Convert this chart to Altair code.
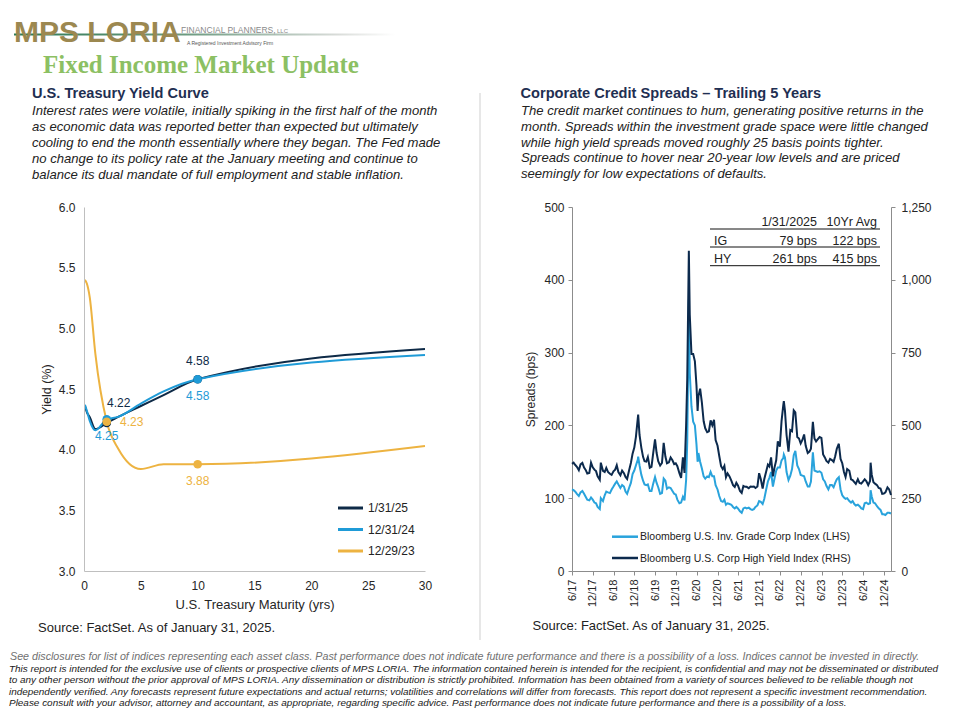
import altair as alt
import pandas as pd

# ---------------- yield curve data ----------------
maturity_yrs = [0.083, 0.25, 0.5, 1, 2, 3, 5, 7, 10, 30]
curve_labels = ["1/31/25", "12/31/24", "12/29/23"]
curve_colors = ["#0e2a47", "#1f9bd7", "#edb341"]
yields_013125 = [4.36, 4.31, 4.27, 4.17, 4.22, 4.27, 4.36, 4.45, 4.58, 4.83]
yields_123124 = [4.37, 4.32, 4.24, 4.16, 4.25, 4.27, 4.38, 4.48, 4.58, 4.78]
yields_122923 = [5.40, 5.37, 5.26, 4.79, 4.23, 4.01, 3.84, 3.88, 3.88, 4.03]
highlight_idx = [4, 8]          # 2Y and 10Y points
yield_ticks = [3.0, 3.5, 4.0, 4.5, 5.0, 5.5, 6.0]
maturity_ticks = [0, 5, 10, 15, 20, 25, 30]

# ---------------- credit spread data ----------------
spread_dates = [
    "2017-06-01", "2017-06-15", "2017-06-30", "2017-07-14", "2017-07-31", "2017-08-15", "2017-08-31",
    "2017-09-15", "2017-09-29", "2017-10-13", "2017-10-31", "2017-11-15", "2017-11-30", "2017-12-15", "2017-12-29",
    "2018-01-12", "2018-01-31", "2018-02-09", "2018-02-28", "2018-03-15", "2018-03-29", "2018-04-13", "2018-04-30",
    "2018-05-15", "2018-05-31", "2018-06-15", "2018-06-29", "2018-07-13", "2018-07-31", "2018-08-15", "2018-08-31",
    "2018-09-14", "2018-09-28", "2018-10-15", "2018-10-31", "2018-11-15", "2018-11-30", "2018-12-14", "2018-12-31",
    "2019-01-03", "2019-01-15", "2019-01-31", "2019-02-15", "2019-02-28", "2019-03-15", "2019-03-29", "2019-04-15",
    "2019-04-30", "2019-05-15", "2019-05-31", "2019-06-14", "2019-06-28", "2019-07-15", "2019-07-31", "2019-08-15",
    "2019-08-30", "2019-09-13", "2019-09-30", "2019-10-15", "2019-10-31", "2019-11-15", "2019-11-29", "2019-12-13",
    "2019-12-31",
    "2020-01-15", "2020-01-31", "2020-02-14", "2020-02-28", "2020-03-09", "2020-03-23", "2020-03-31", "2020-04-15",
    "2020-04-30", "2020-05-15", "2020-05-29", "2020-06-08", "2020-06-15", "2020-06-30", "2020-07-15", "2020-07-31",
    "2020-08-14", "2020-08-31", "2020-09-15", "2020-09-30", "2020-10-15", "2020-10-30", "2020-11-13", "2020-11-30",
    "2020-12-15", "2020-12-31",
    "2021-01-15", "2021-01-29", "2021-02-12", "2021-02-26", "2021-03-15", "2021-03-31", "2021-04-15", "2021-04-30",
    "2021-05-14", "2021-05-28", "2021-06-15", "2021-06-30", "2021-07-15", "2021-07-30", "2021-08-13", "2021-08-31",
    "2021-09-15", "2021-09-30", "2021-10-15", "2021-10-29", "2021-11-15", "2021-11-30", "2021-12-15", "2021-12-31",
    "2022-01-14", "2022-01-31", "2022-02-15", "2022-02-28", "2022-03-15", "2022-03-31", "2022-04-14", "2022-04-29",
    "2022-05-13", "2022-05-31", "2022-06-15", "2022-06-30", "2022-07-05", "2022-07-15", "2022-07-29", "2022-08-15",
    "2022-08-31", "2022-09-15", "2022-09-30", "2022-10-14", "2022-10-31", "2022-11-15", "2022-11-30", "2022-12-15",
    "2022-12-30",
    "2023-01-13", "2023-01-31", "2023-02-15", "2023-02-28", "2023-03-17", "2023-03-31", "2023-04-14", "2023-04-28",
    "2023-05-15", "2023-05-31", "2023-06-15", "2023-06-30", "2023-07-14", "2023-07-31", "2023-08-15", "2023-08-31",
    "2023-09-15", "2023-09-29", "2023-10-13", "2023-10-31", "2023-11-15", "2023-11-30", "2023-12-15", "2023-12-29",
    "2024-01-12", "2024-01-31", "2024-02-15", "2024-02-29", "2024-03-15", "2024-03-28", "2024-04-15", "2024-04-30",
    "2024-05-15", "2024-05-31", "2024-06-14", "2024-06-28", "2024-07-15", "2024-07-31", "2024-08-05", "2024-08-15",
    "2024-08-30", "2024-09-13", "2024-09-30", "2024-10-15", "2024-10-31", "2024-11-15", "2024-11-29", "2024-12-13",
    "2024-12-31", "2025-01-15", "2025-01-31",
]
hy_spread = [
    368, 372, 364, 358, 346, 366, 371, 355, 347, 335, 337, 372, 356, 348, 343,
    325, 313, 372, 344, 340, 354, 340, 334, 330, 342, 348, 363, 340, 329, 345, 336,
    323, 316, 345, 371, 403, 424, 460, 526,
    537, 467, 423, 392, 377, 376, 391, 355, 358, 405, 452, 405, 377, 362, 371, 440,
    393, 370, 373, 390, 380, 367, 370, 360, 336,
    320, 390, 337, 500, 660, 1100, 880, 745, 745, 720, 637, 550, 600, 626, 580, 514,
    490, 477, 480, 517, 500, 519, 450, 430, 395, 360,
    350, 361, 322, 335, 325, 310, 295, 289, 303, 294, 275, 268, 292, 289, 289, 284,
    290, 289, 290, 285, 290, 336, 315, 283,
    315, 342, 365, 359, 390, 325, 355, 380, 445, 427, 515, 569, 583, 550, 467, 410,
    484, 480, 552, 545, 460, 455, 438, 450, 469,
    430, 405, 410, 420, 512, 455, 445, 452, 460, 457, 400, 390, 378, 372, 385, 381,
    375, 394, 420, 437, 385, 370, 340, 323,
    350, 344, 315, 312, 305, 299, 315, 302, 300, 308, 315, 309, 295, 309, 372, 330,
    305, 300, 295, 285, 283, 265, 266, 270, 287, 280, 261,
]
ig_spread = [
    112, 111, 109, 106, 103, 108, 110, 106, 102, 98, 97, 101, 98, 94, 93,
    88, 85, 100, 96, 104, 109, 108, 107, 112, 116, 120, 123, 119, 114, 118, 116,
    109, 106, 114, 121, 133, 138, 145, 153,
    157, 145, 132, 124, 119, 118, 119, 110, 110, 120, 129, 121, 115, 106, 107, 127,
    124, 113, 115, 114, 110, 106, 105, 98, 93,
    94, 102, 97, 125, 178, 373, 272, 226, 205, 200, 174, 150, 162, 150, 141, 130,
    127, 130, 129, 136, 130, 130, 118, 112, 103, 96,
    95, 98, 91, 93, 92, 91, 88, 86, 88, 86, 82, 80, 86, 87, 86, 87,
    85, 84, 85, 88, 90, 96, 95, 92,
    99, 112, 123, 128, 136, 116, 127, 138, 142, 142, 152, 155, 160, 156, 136, 125,
    131, 140, 159, 165, 145, 140, 132, 131, 130,
    123, 116, 116, 123, 163, 138, 137, 136, 137, 135, 126, 123, 117, 112, 118, 118,
    115, 121, 126, 129, 112, 104, 101, 99,
    100, 96, 94, 96, 92, 90, 91, 89, 86, 85, 93, 94, 92, 93, 111, 102,
    94, 93, 89, 86, 84, 78, 78, 77, 80, 80, 79,
]
spread_series = ["Bloomberg U.S. Inv. Grade Corp Index (LHS)", "Bloomberg U.S. Corp High Yield Index (RHS)"]
spread_colors = ["#29a3dc", "#0c2a4d"]
spread_tick_dates = [(y, m) for y in range(2017, 2025) for m in (6, 12)]
ig_ticks = [0, 100, 200, 300, 400, 500]
hy_ticks = [0, 250, 500, 750, 1000, 1250]

table_header = ["1/31/2025", "10Yr Avg"]
table_rows = ["IG", "HY"]
table_current = ["79 bps", "261 bps"]
table_avg = ["122 bps", "415 bps"]

# ---------------- text ----------------
logo_text = "MPS LORIA"
logo_sub = "FINANCIAL PLANNERS,"
logo_llc = "LLC"
logo_tag = "A Registered Investment Advisory Firm"
page_title = "Fixed Income Market Update"
left_heading = "U.S. Treasury Yield Curve"
left_para = [
    "Interest rates were volatile, initially spiking in the first half of the month",
    "as economic data was reported better than expected but ultimately",
    "cooling to end the month essentially where they began. The Fed made",
    "no change to its policy rate at the January meeting and continue to",
    "balance its dual mandate of full employment and stable inflation.",
]
right_heading = "Corporate Credit Spreads \u2013 Trailing 5 Years"
right_para = [
    "The credit market continues to hum, generating positive returns in the",
    "month. Spreads within the investment grade space were little changed",
    "while high yield spreads moved roughly 25 basis points tighter.",
    "Spreads continue to hover near 20-year low levels and are priced",
    "seemingly for low expectations of defaults.",
]
source_text = "Source: FactSet. As of January 31, 2025."
footer_first = ("See disclosures for list of indices representing each asset class. Past performance does not "
                "indicate future performance and there is a possibility of a loss. Indices cannot be invested in directly.")
footer_lines = [
    "This report is intended for the exclusive use of clients or prospective clients of MPS LORIA. The information contained herein is intended for the recipient, is confidential and may not be disseminated or distributed",
    "to any other person without the prior approval of MPS LORIA. Any dissemination or distribution is strictly prohibited. Information has been obtained from a variety of sources believed to be reliable though not",
    "independently verified. Any forecasts represent future expectations and actual returns; volatilities and correlations will differ from forecasts. This report does not represent a specific investment recommendation.",
    "Please consult with your advisor, attorney and accountant, as appropriate, regarding specific advice. Past performance does not indicate future performance and there is a possibility of a loss.",
]

FONT = "Liberation Sans"
one = pd.DataFrame({"k": [0]})


def txt(lines, x, y, size, color="#222222", style="normal", weight="normal", font=FONT,
        align="left", baseline="alphabetic", lh=None):
    kw = dict(fontSize=size, color=color, fontStyle=style, fontWeight=weight, font=font,
              align=align, baseline=baseline)
    if lh is not None:
        kw["lineHeight"] = lh
    return alt.Chart(one).mark_text(**kw).encode(
        x=alt.value(x), y=alt.value(y), text=alt.value(lines))


def rule(x1, x2, y1, y2, color, width=1):
    return alt.Chart(one).mark_rule(color=color, strokeWidth=width).encode(
        x=alt.value(x1), x2=alt.value(x2), y=alt.value(y1), y2=alt.value(y2))


# ---------------- left panel (yield curve + page text) ----------------
curve_values = [yields_013125, yields_123124, yields_122923]
rows = []
for name, ys in zip(curve_labels, curve_values):
    for m, v in zip(maturity_yrs, ys):
        rows.append({"series": name, "maturity": m, "yield": v})
ydf = pd.DataFrame(rows)

xs = alt.Scale(domain=[0, 30], nice=False)
ysc = alt.Scale(domain=[3, 6], nice=False)
x_axis = alt.Axis(values=maturity_ticks, title="U.S. Treasury Maturity (yrs)", ticks=False, tickSize=0,
                  domainColor="#bfbfbf", labelFontSize=12, titleFontSize=13, labelPadding=9,
                  titlePadding=7, zindex=1, labelFlush=False)
y_axis = alt.Axis(values=yield_ticks, format=".1f", title="Yield (%)", ticks=False, tickSize=0,
                  domainColor="#bfbfbf", labelFontSize=12, titleFontSize=12.5, labelPadding=9,
                  titlePadding=5, zindex=1)

bg = alt.Chart(one).mark_rect(color="white").encode(
    x=alt.value(-76), x2=alt.value(868), y=alt.value(-199), y2=alt.value(504.5))

layers = [bg]
for i in [2, 0, 1]:
    layers.append(
        alt.Chart(ydf).transform_filter(alt.datum.series == curve_labels[i])
        .mark_line(color=curve_colors[i], strokeWidth=2, interpolate="monotone")
        .encode(x=alt.X("maturity:Q", scale=xs, axis=x_axis), y=alt.Y("yield:Q", scale=ysc, axis=y_axis))
    )

pts_rows = []
for i in [0, 1, 2]:
    for k in highlight_idx:
        pts_rows.append({"series": curve_labels[i], "maturity": maturity_yrs[k],
                         "yield": curve_values[i][k], "label": f"{curve_values[i][k]:.2f}"})
pdf = pd.DataFrame(pts_rows)
for i in [0, 1, 2]:
    layers.append(
        alt.Chart(pdf).transform_filter(alt.datum.series == curve_labels[i])
        .mark_point(filled=True, size=75, opacity=1, color=curve_colors[i])
        .encode(x=alt.X("maturity:Q", scale=xs), y=alt.Y("yield:Q", scale=ysc))
    )

label_offsets = {(0, 4): (12, -20), (1, 4): (0, 17), (2, 4): (25, 0),
                 (0, 8): (0, -18), (1, 8): (0, 17), (2, 8): (0, 17)}
for (i, k), (dx, dy) in label_offsets.items():
    layers.append(
        alt.Chart(pdf).transform_filter(
            (alt.datum.series == curve_labels[i]) & (alt.datum.maturity == maturity_yrs[k]))
        .mark_text(color=curve_colors[i], fontSize=12, font=FONT, dx=dx, dy=dy,
                   align="center", baseline="middle")
        .encode(x=alt.X("maturity:Q", scale=xs), y=alt.Y("yield:Q", scale=ysc), text="label:N")
    )

# left legend
for r, (name, col) in enumerate(zip(curve_labels, curve_colors)):
    yy = 301 + r * 21.5
    layers.append(rule(254, 279, yy, yy, col, 3))
    layers.append(txt(name, 284, yy + 4.3, 12, color="#222222"))

# header / logo
logo_grad = alt.LinearGradient(gradient="linear", x1=0, x2=1, y1=0, y2=0, stops=[
    alt.GradientStop(color="#2d7a55", offset=0), alt.GradientStop(color="#6c9a80", offset=0.45),
    alt.GradientStop(color="#d9dcd9", offset=0.85), alt.GradientStop(color="#ffffff", offset=1)])
layers.append(alt.Chart(one).mark_rect(color=logo_grad).encode(
    x=alt.value(-70), x2=alt.value(311), y=alt.value(-173.5), y2=alt.value(-171.5)))
layers.append(txt(logo_text, -70, -165, 30, color="#9c8850", weight="bold"))
layers.append(txt(logo_sub, 97, -174, 8.5, color="#8a8a8a"))
layers.append(txt(logo_llc, 193, -174, 6, color="#8a8a8a"))
layers.append(txt(logo_tag, 103, -162.5, 5, color="#555555"))
layers.append(txt(page_title, -41, -134, 25, color="#8cc063", weight="bold", font="Liberation Serif"))

layers.append(txt(left_heading, -52, -109, 14.6, color="#1f2f52", weight="bold"))
layers.append(txt(left_para, -52, -92.5, 13.1, color="#222222", style="italic", lh=16))
layers.append(txt(right_heading, 436.5, -109, 14.6, color="#1f2f52", weight="bold"))
layers.append(txt(right_para, 437, -92, 13.1, color="#222222", style="italic", lh=15.8))

# separator
layers.append(rule(396, 396, -114, 433, "#cfcfcf", 1))

# sources
layers.append(txt(source_text, -46, 425, 13, color="#222222"))
layers.append(txt(source_text, 448.5, 422.5, 13, color="#222222"))

# table on the spreads chart
for yy in [22, 40, 58.7]:
    layers.append(rule(626, 796, yy, yy, "#111111", 1))
layers.append(txt(table_header[0], 733, 19, 12.5, align="right"))
layers.append(txt(table_header[1], 793, 19, 12.5, align="right"))
for r in range(2):
    yy = 38 + r * 17.5
    layers.append(txt(table_rows[r], 630, yy, 12.5))
    layers.append(txt(table_current[r], 733, yy, 12.5, align="right"))
    layers.append(txt(table_avg[r], 793, yy, 12.5, align="right"))

# spreads legend
for r, (name, col) in enumerate(zip(spread_series, spread_colors)):
    yy = 329.7 + r * 21.3
    layers.append(rule(528, 554, yy, yy, col, 2.5))
    layers.append(txt(name, 556, yy + 3.7, 10.5, color="#222222"))

# footer
layers.append(txt(footer_first, -74, 452.5, 10.7, color="#707070", style="italic"))
layers.append(txt(footer_lines, -75, 464.5, 9.95, color="#1a1a1a", style="italic", lh=11.6))

left = alt.layer(*layers).properties(width=341, height=364)

# ---------------- right panel (credit spreads) ----------------
sdf = pd.DataFrame({"date": pd.to_datetime(spread_dates), "ig": ig_spread, "hy": hy_spread})
tscale = alt.Scale(domain=[alt.DateTime(year=2017, month=6, date=1),
                           alt.DateTime(year=2025, month=1, date=31)])
t_axis = alt.Axis(values=[alt.DateTime(year=y, month=m, date=1) for y, m in spread_tick_dates],
                  format="%-m/%y", labelAngle=270, tickSize=4, labelPadding=4, title=None,
                  domainColor="#8c8c8c", tickColor="#8c8c8c", labelFontSize=11, labelFlush=False)
ig_axis = alt.Axis(values=ig_ticks, title="Spreads (bps)", tickSize=4, labelPadding=4,
                   domainColor="#8c8c8c", tickColor="#8c8c8c", labelFontSize=12,
                   titleFontSize=12, titlePadding=6)
hy_axis = alt.Axis(values=hy_ticks, format=",.0f", orient="right", title=None, tickSize=4,
                   labelPadding=6, domainColor="#8c8c8c", tickColor="#8c8c8c", labelFontSize=12)

ig_line = alt.Chart(sdf).mark_line(color=spread_colors[0], strokeWidth=2).encode(
    x=alt.X("date:T", scale=tscale, axis=t_axis),
    y=alt.Y("ig:Q", scale=alt.Scale(domain=[0, 500], nice=False), axis=ig_axis))
hy_line = alt.Chart(sdf).mark_line(color=spread_colors[1], strokeWidth=2).encode(
    x=alt.X("date:T", scale=tscale, axis=t_axis),
    y=alt.Y("hy:Q", scale=alt.Scale(domain=[0, 1250], nice=False), axis=hy_axis))
right = alt.layer(ig_line, hy_line).resolve_scale(y="independent").properties(width=319, height=364)

chart = (
    alt.hconcat(left, right, spacing=147, bounds="flush")
    .properties(padding=0, background="white")
    .configure_view(strokeWidth=0)
    .configure_axis(labelFont=FONT, titleFont=FONT, labelColor="#262626", titleColor="#262626",
                    titleFontWeight="normal", grid=False)
)
chart.save("out.html", embed_options={"renderer": "svg", "actions": False})
